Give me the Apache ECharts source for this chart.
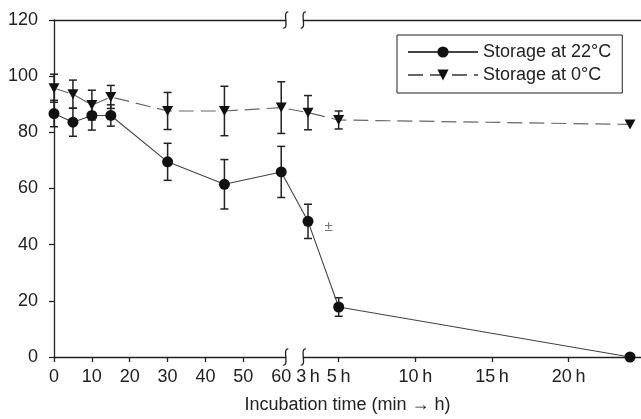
<!DOCTYPE html>
<html>
<head>
<meta charset="utf-8">
<script src="https://cdn.jsdelivr.net/npm/echarts@6/dist/echarts.min.js"></script>
<style>
html,body{margin:0;padding:0;background:#fff;}
#c{width:641px;height:419px;}
</style>
</head>
<body>
<div id="c"></div>
<script>
// ---- data ----
const minuteTimes = [0, 5, 10, 15, 30, 45, 60];      // minutes
const hourTimes = [3, 5, 24];                        // hours
const warmMean = [86.7, 83.6, 86.0, 86.0, 69.5, 61.5, 65.9, 48.3, 17.8, 0];
const warmErr  = [4.7, 5.0, 5.2, 3.8, 6.6, 8.8, 9.1, 6.1, 3.3, null];
const coldMean = [95.7, 93.6, 89.7, 92.6, 87.6, 87.6, 88.8, 87.0, 84.4, 82.8];
const coldErr  = [5.0, 5.0, 5.3, 4.1, 6.6, 8.8, 9.2, 6.1, 3.2, null];
const minuteTicks = [0, 10, 20, 30, 40, 50, 60];
const hourTicks = [3, 5, 10, 15, 20];
const seriesNames = ['Storage at 22°C', 'Storage at 0°C'];
const xTitle = 'Incubation time (min → h)';

// ---- broken time axis: minutes then hours on one scale ----
const H0 = 67.07, HK = 4.049;
const posMin = m => m;
const posHour = h => H0 + (h - 3) * HK;
const xs = minuteTimes.map(posMin).concat(hourTimes.map(posHour));

const tickLabelMap = [];
minuteTicks.forEach(m => tickLabelMap.push([posMin(m), String(m)]));
hourTicks.forEach(h => tickLabelMap.push([posHour(h), h + '\u2009h']));
const labelValues = tickLabelMap.map(d => d[0]);
const tickValues = minuteTicks.filter(m => m < 60).map(posMin).concat(hourTicks.filter(h => h > 3).map(posHour));

const warmData = xs.map((x, i) => ({ value: [x, warmMean[i]] }));
warmData[7].label = { show: true, formatter: '±', position: 'right', distance: 11, offset: [0, 6], color: '#777', fontSize: 15, fontFamily: 'Liberation Sans, Arial, sans-serif' };
const coldData = xs.map((x, i) => [x, coldMean[i]]);

const errData = [];
xs.forEach((x, i) => {
  if (warmErr[i] != null) errData.push([x, warmMean[i], warmErr[i]]);
  if (coldErr[i] != null) errData.push([x, coldMean[i], coldErr[i]]);
});

const FONT = 'Liberation Sans, Arial, Helvetica, sans-serif';
const ink = '#222';

const chart = echarts.init(document.getElementById('c'), null, { renderer: 'canvas' });

const option = {
  animation: false,
  backgroundColor: '#fff',
  textStyle: { fontFamily: FONT, color: ink },
  grid: { left: 54, right: 0, top: 20, bottom: 57, containLabel: false },
  legend: {
    orient: 'vertical',
    left: 397, top: 35,
    padding: [8, 11, 9, 10],
    itemGap: 5,
    itemWidth: 70, itemHeight: 14,
    borderColor: '#222', borderWidth: 1,
    backgroundColor: '#fff',
    textStyle: { fontSize: 18, color: ink, fontFamily: FONT },
    data: seriesNames
  },
  xAxis: [{
    type: 'value', min: 0, max: 155, position: 'bottom',
    axisLine: { show: true, lineStyle: { color: ink, width: 1.3 } },
    axisTick: { show: true, length: 5, customValues: tickValues, lineStyle: { color: ink, width: 1.3 } },
    axisLabel: {
      customValues: labelValues, margin: 11, fontSize: 18, color: ink, fontFamily: FONT,
      formatter: v => { const f = tickLabelMap.find(d => Math.abs(d[0] - v) < 0.01); return f ? f[1] : ''; }
    },
    splitLine: { show: false },
    name: xTitle, nameLocation: 'middle', nameGap: 39,
    nameTextStyle: { fontSize: 18, color: ink, fontFamily: FONT }
  }, {
    type: 'value', min: 0, max: 155, position: 'top',
    axisLine: { show: true, lineStyle: { color: ink, width: 1.3 } },
    axisTick: { show: false }, axisLabel: { show: false }, splitLine: { show: false }
  }],
  yAxis: {
    type: 'value', min: 0, max: 120, interval: 20,
    axisLine: { show: true, lineStyle: { color: ink, width: 1.3 } },
    axisTick: { show: true, length: 5, lineStyle: { color: ink, width: 1.3 } },
    axisLabel: { margin: 16, fontSize: 18, color: ink, fontFamily: FONT },
    splitLine: { show: false }
  },
  series: [{
    type: 'custom',
    name: 'err',
    z: 1,
    data: errData,
    renderItem: (params, api) => {
      const x = api.value(0), m = api.value(1), e = api.value(2);
      const top = api.coord([x, m + e]);
      const bot = api.coord([x, m - e]);
      const w = 4;
      const st = { stroke: ink, lineWidth: 1.5, fill: null };
      return {
        type: 'group',
        children: [
          { type: 'line', shape: { x1: top[0], y1: top[1], x2: bot[0], y2: bot[1] }, style: st },
          { type: 'line', shape: { x1: top[0] - w, y1: top[1], x2: top[0] + w, y2: top[1] }, style: st },
          { type: 'line', shape: { x1: bot[0] - w, y1: bot[1], x2: bot[0] + w, y2: bot[1] }, style: st }
        ]
      };
    }
  }, {
    type: 'line',
    name: seriesNames[0],
    z: 3,
    data: warmData,
    symbol: 'circle', symbolSize: 11,
    itemStyle: { color: '#111' },
    lineStyle: { color: '#444', width: 1.1 },
    emphasis: { disabled: true }
  }, {
    type: 'line',
    name: seriesNames[1],
    z: 2,
    data: coldData,
    symbol: 'triangle', symbolSize: [11, 10], symbolRotate: 180,
    itemStyle: { color: '#111' },
    lineStyle: { color: '#666', width: 1.2, type: [15, 7] },
    emphasis: { disabled: true }
  }]
};
chart.setOption(option);

// ---- axis break marks ----
const bx1 = chart.convertToPixel({ xAxisIndex: 0 }, 61.2);
const bx2 = chart.convertToPixel({ xAxisIndex: 0 }, 65.83);
const yBot = chart.convertToPixel({ yAxisIndex: 0 }, 0);
const yTop = chart.convertToPixel({ yAxisIndex: 0 }, 120);
const g = [];
[yTop, yBot].forEach(y => {
  g.push({ type: 'rect', shape: { x: bx1 + 0.5, y: y - 2.5, width: bx2 - bx1 - 1, height: 5 }, style: { fill: '#fff' }, z: 100 });
  [bx1, bx2].forEach(x => {
    g.push({ type: 'bezierCurve', shape: { x1: x + 2.5, y1: y - 8, cpx1: x - 4, cpy1: y - 9, cpx2: x + 4, cpy2: y + 9, x2: x - 2.5, y2: y + 8 },
      style: { stroke: ink, lineWidth: 1.3, fill: null }, z: 101 });
  });
});
chart.setOption({ graphic: g });
</script>
</body>
</html>
